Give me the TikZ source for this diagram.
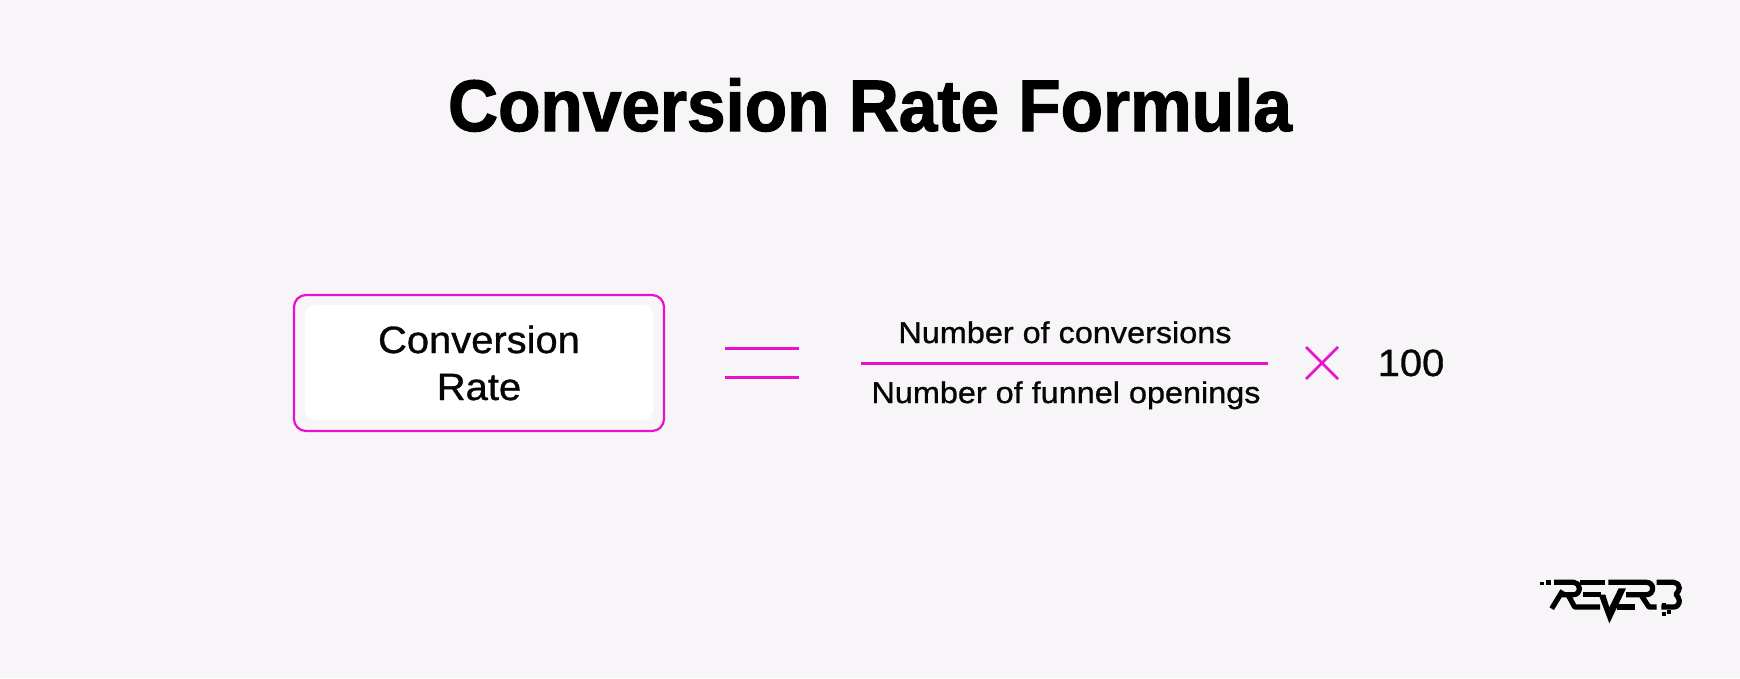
\documentclass[tikz,border=0pt]{standalone}
\usepackage{fontspec}
\setmainfont{Liberation Sans}
\newfontfamily\titlefont[FakeBold=1.6,FakeStretch=0.95]{Liberation Sans Bold}
\newfontfamily\bigfont[FakeBold=0.9,FakeStretch=1.05]{Liberation Sans}
\newfontfamily\smallfont[FakeBold=0.9,FakeStretch=1.08]{Liberation Sans}
\definecolor{bgc}{HTML}{F7F5F7}
\definecolor{mag}{HTML}{EA10CE}
\definecolor{ink}{HTML}{060606}
\tikzset{
  mline/.style={draw=mag,line width=3pt},
  big/.style={inner sep=0pt,anchor=base,text=ink,font=\bigfont\fontsize{38}{38}\selectfont},
  small/.style={inner sep=0pt,anchor=base,text=ink,font=\smallfont\fontsize{30}{30}\selectfont},
  logostroke/.style={draw=black,line width=5.2pt,line join=round}
}
\begin{document}
\begin{tikzpicture}[x=1pt,y=-1pt]
\useasboundingbox (0,0) rectangle (1740,678);
\fill[bgc] (0,0) rectangle (1740,678);
\node[inner sep=0pt,anchor=base,text=black,font=\titlefont\fontsize{73}{73}\selectfont] (title) at (870,131) {Conversion Rate Formula};
\draw[mag,line width=2.2pt,rounded corners=12pt] (294,295) rectangle (664,431);
\fill[white,rounded corners=10pt] (305,305) rectangle (653,420);
\node[big] (c1) at (479,353) {Conversion};
\node[big] (c2) at (479,400) {Rate};
\coordinate (e1a) at (725,348); \coordinate (e1b) at (799,348);
\coordinate (e2a) at (725,377); \coordinate (e2b) at (799,377);
\draw[mline] (e1a) -- (e1b);
\draw[mline] (e2a) -- (e2b);
\node[small] (num) at (1065,343) {Number of conversions};
\node[small] (den) at (1066,403) {Number of funnel openings};
\coordinate (fa) at (861,363); \coordinate (fb) at (1268,363);
\draw[mline] (fa) -- (fb);
\coordinate (xa) at (1306,347); \coordinate (xb) at (1338,379);
\coordinate (xc) at (1306,379); \coordinate (xd) at (1338,347);
\draw[draw=mag,line width=2.6pt] (xa) -- (xb) (xc) -- (xd);
\node[big] (hund) at (1411,376) {100};
% logo
\begin{scope}[shift={(1500,560)},x=0.3333pt,y=-0.3333pt]
  \fill (120,65) rectangle (131,75);
  \fill (138,60) rectangle (154,76);
  % first R
  \draw[logostroke] (162,67) -- (222,67) to[out=0,in=90] (238,85) to[out=-90,in=0] (222,104) -- (182,104);
  \draw[logostroke] (188,92) -- (155,146);
  \draw[logostroke] (205,106) -- (224,141) -- (300,141);
  % E
  \draw[logostroke] (240,67) -- (315,67);
  \draw[logostroke] (248,104) -- (302,104);
  % R2 top, bowl and foot
  \draw[logostroke] (325,67) -- (440,67) to[out=0,in=90] (458,85) to[out=-90,in=0] (440,104) -- (378,104);
  \draw[logostroke] (352,141) -- (405,141);
  \draw[logostroke] (425,108) -- (447,141) -- (470,141);
  % V
  \fill (296,104) -- (316,104) -- (328,142) -- (356,85) -- (378,85) -- (328,190) -- cycle;
  % B
  \draw[logostroke] (470,67) -- (522,67) to[out=0,in=90] (538,84) to[out=-90,in=60] (528,103) to[out=-60,in=90] (538,122) to[out=-90,in=0] (522,141) -- (484,141);
  \fill (486,157) rectangle (497,167);
  \fill (500,150) rectangle (513,163);
  \fill (485,128) rectangle (497,137);
\end{scope}
\end{tikzpicture}
\end{document}
